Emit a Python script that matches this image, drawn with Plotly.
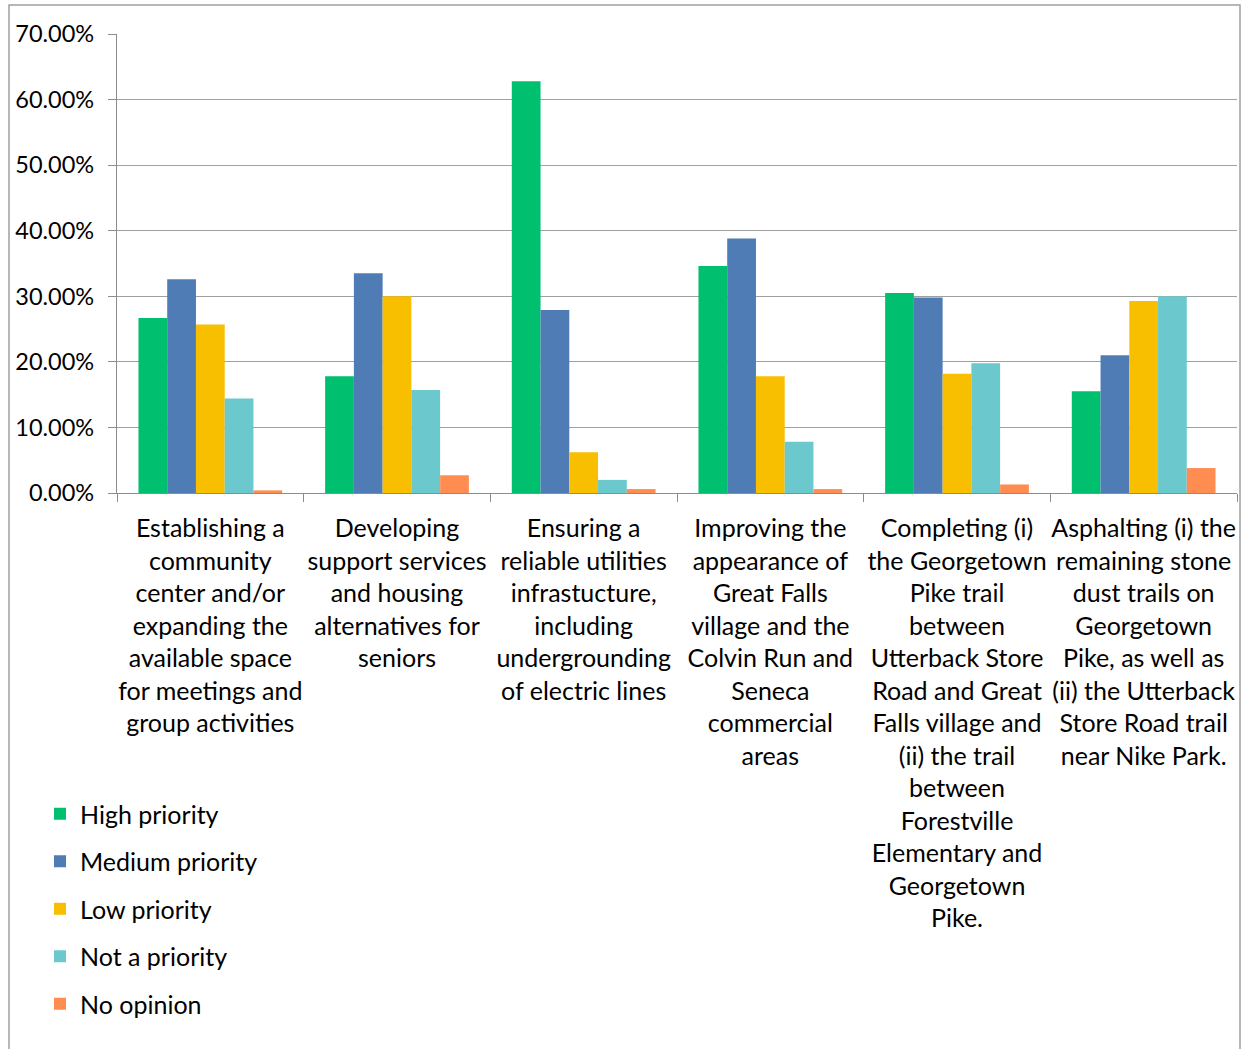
import plotly.graph_objects as go

# Survey categories (x-axis tick labels, wrapped by hand)
categories = [
    "Establishing a<br>community<br>center and/or<br>expanding the<br>available space<br>for meetings and<br>group activities",
    "Developing<br>support services<br>and housing<br>alternatives for<br>seniors",
    "Ensuring a<br>reliable utilities<br>infrastucture,<br>including<br>undergrounding<br>of electric lines",
    "Improving the<br>appearance of<br>Great Falls<br>village and the<br>Colvin Run and<br>Seneca<br>commercial<br>areas",
    "Completing (i)<br>the Georgetown<br>Pike trail<br>between<br>Utterback Store<br>Road and Great<br>Falls village and<br>(ii) the trail<br>between<br>Forestville<br>Elementary and<br>Georgetown<br>Pike.",
    "Asphalting (i) the<br>remaining stone<br>dust trails on<br>Georgetown<br>Pike, as well as<br>(ii) the Utterback<br>Store Road trail<br>near Nike Park.",
]

# Share of respondents per priority level (fractions)
high_priority = [0.267, 0.178, 0.628, 0.346, 0.305, 0.155]
medium_priority = [0.326, 0.335, 0.279, 0.388, 0.298, 0.210]
low_priority = [0.257, 0.300, 0.062, 0.178, 0.182, 0.293]
not_a_priority = [0.144, 0.157, 0.020, 0.078, 0.198, 0.300]
no_opinion = [0.004, 0.027, 0.006, 0.006, 0.013, 0.038]

series = [
    ("High priority", high_priority, "#00BF6F"),
    ("Medium priority", medium_priority, "#4F7CB5"),
    ("Low priority", low_priority, "#F8BE00"),
    ("Not a priority", not_a_priority, "#6BC8CD"),
    ("No opinion", no_opinion, "#FF8C50"),
]

FONT = "Lato, Carlito, Calibri, sans-serif"

fig = go.Figure()
for name, vals, color in series:
    fig.add_trace(go.Bar(
        name=name, x=categories, y=vals,
        marker=dict(color=color, line=dict(width=0)),
        legendgroup=name,
    ))

W, H = 1246, 1049
L, R, T, B = 117, 9, 34, 556
pw, ph = W - L - R, H - T - B

def px_x(x):
    return (x - L) / pw

def px_y(y):
    return (H - B - y) / ph

fig.update_layout(
    width=W, height=H,
    margin=dict(l=L, r=R, t=T, b=B, pad=0),
    paper_bgcolor="white", plot_bgcolor="white",
    barmode="group", bargap=0.23, bargroupgap=0,
    font=dict(family=FONT, size=25, color="#000000"),
    legend=dict(
        x=px_x(40), y=px_y(791), xanchor="left", yanchor="top",
        orientation="v", tracegroupgap=12,
        font=dict(family=FONT, size=25, color="#000000"),
        bgcolor="rgba(0,0,0,0)",
    ),
    xaxis=dict(
        type="category", tickson="boundaries",
        ticks="outside", ticklen=8, tickcolor="#8C8C8C", tickwidth=1.25,
        showline=True, linecolor="#8C8C8C", linewidth=1.25,
        showgrid=False, tickangle=0,
        ticklabelstandoff=13,
        tickfont=dict(family=FONT, size=25, color="#000000"),
    ),
    yaxis=dict(
        range=[0, 0.7], dtick=0.1, tick0=0, tickformat=".2%",
        ticks="outside", ticklen=8, tickcolor="#8C8C8C", tickwidth=1.25,
        showline=True, linecolor="#8C8C8C", linewidth=1.25,
        showgrid=True, gridcolor="#A0A0A0", gridwidth=1.25,
        zeroline=False,
        ticklabelstandoff=9,
        tickfont=dict(family=FONT, size=23.5, color="#000000"),
    ),
    shapes=[dict(
        type="rect", xref="paper", yref="paper",
        x0=px_x(9), x1=px_x(1240), y0=px_y(1070), y1=px_y(5),
        line=dict(color="#A0A0A0", width=1.5), fillcolor="rgba(0,0,0,0)",
        layer="below",
    )],
)

fig.write_html("out.html")
